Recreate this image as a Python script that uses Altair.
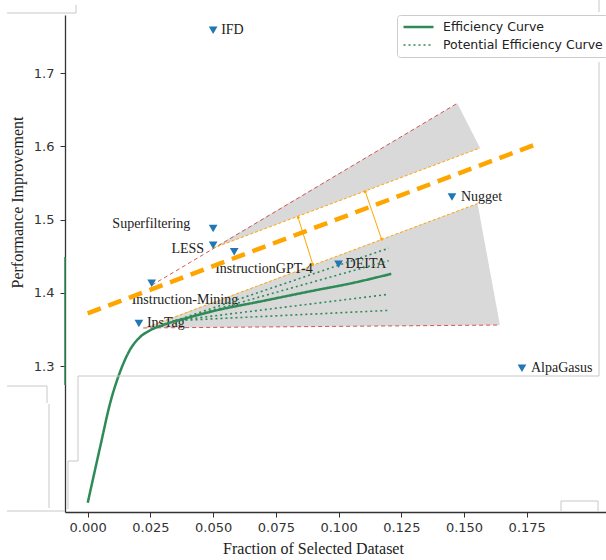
import altair as alt
import pandas as pd

# ---------------- data ----------------
METHODS = ["IFD", "Superfiltering", "LESS", "InstructionGPT-4", "Instruction-Mining",
           "InsTag", "DEITA", "Nugget", "AlpaGasus"]
METHOD_X = [0.050, 0.050, 0.050, 0.0584, 0.0255, 0.0204, 0.100, 0.1452, 0.1731]
METHOD_Y = [1.759, 1.488, 1.465, 1.456, 1.413, 1.358, 1.439, 1.531, 1.297]

EFF_X = [0.0, 0.005, 0.009, 0.013, 0.017, 0.021, 0.025, 0.030, 0.040, 0.050,
         0.070, 0.090, 0.105, 0.121]
EFF_Y = [1.113, 1.190, 1.250, 1.293, 1.323, 1.340, 1.349, 1.356, 1.366, 1.375,
         1.389, 1.403, 1.413, 1.426]

POT_START_X = 0.035
POT_START_Y = 1.362
POT_END_X = 0.120
POT_END_Y = [1.461, 1.444, 1.398, 1.376]

# grey wedges (x, upper, lower)
UP_WEDGE_X = [0.0499, 0.1473, 0.1564]
UP_WEDGE_TOP = [1.461, 1.659, 1.598]
UP_WEDGE_BOT = [1.461, 1.5863, 1.598]
LO_WEDGE_X = [0.0225, 0.1554, 0.1643]
LO_WEDGE_TOP = [1.352, 1.522, 1.356]
LO_WEDGE_BOT = [1.352, 1.3557, 1.356]

# red dashed bounds (x1, y1, x2, y2)
RED_X1 = [0.0256, 0.0221]
RED_Y1 = [1.4105, 1.352]
RED_X2 = [0.1473, 0.1643]
RED_Y2 = [1.659, 1.356]

# thin orange bounds
ORA_X1 = [0.0499, 0.0237]
ORA_Y1 = [1.461, 1.353]
ORA_X2 = [0.1564, 0.1554]
ORA_Y2 = [1.598, 1.522]

# thick orange trend
TREND_X = [0.0, 0.1803]
TREND_Y = [1.372, 1.605]

# double arrows
ARR_X1 = [0.0838, 0.1106]
ARR_Y1 = [1.5038, 1.539]
ARR_X2 = [0.0898, 0.1172]
ARR_Y2 = [1.438, 1.4727]

X_TICKS = [0.0, 0.025, 0.05, 0.075, 0.1, 0.125, 0.15, 0.175]
Y_TICKS = [1.3, 1.4, 1.5, 1.6, 1.7]

# ---------------- tables ----------------
pts = pd.DataFrame({"name": METHODS, "x": METHOD_X, "y": METHOD_Y})

rows = []
for xv, yv in zip(EFF_X, EFF_Y):
    rows.append({"series": "Efficiency Curve", "lid": "eff", "x": xv, "y": yv})
for i, ye in enumerate(POT_END_Y):
    rows.append({"series": "Potential Efficiency Curve", "lid": f"p{i}", "x": POT_START_X, "y": POT_START_Y})
    rows.append({"series": "Potential Efficiency Curve", "lid": f"p{i}", "x": POT_END_X, "y": ye})
lines = pd.DataFrame(rows)

wedges = pd.DataFrame(
    [{"w": "up", "x": a, "top": b, "bot": c} for a, b, c in zip(UP_WEDGE_X, UP_WEDGE_TOP, UP_WEDGE_BOT)]
    + [{"w": "lo", "x": a, "top": b, "bot": c} for a, b, c in zip(LO_WEDGE_X, LO_WEDGE_TOP, LO_WEDGE_BOT)]
)
red = pd.DataFrame({"x": RED_X1, "y": RED_Y1, "x2": RED_X2, "y2": RED_Y2})
ora = pd.DataFrame({"x": ORA_X1, "y": ORA_Y1, "x2": ORA_X2, "y2": ORA_Y2})
trend = pd.DataFrame({"x": [TREND_X[0]], "y": [TREND_Y[0]], "x2": [TREND_X[1]], "y2": [TREND_Y[1]]})
arr = pd.DataFrame({"x": ARR_X1, "y": ARR_Y1, "x2": ARR_X2, "y2": ARR_Y2})
heads_top = pd.DataFrame({"x": ARR_X1, "y": ARR_Y1})
heads_bot = pd.DataFrame({"x": ARR_X2, "y": ARR_Y2})

XS = alt.Scale(domain=[-0.00905, 0.2066], nice=False, zero=False)
YS = alt.Scale(domain=[1.1005, 1.7797], nice=False, zero=False)

x_axis = alt.Axis(values=X_TICKS, format=".3f", grid=False, title="Fraction of Selected Dataset",
                  titleFont="Liberation Serif", titleFontSize=16, titleFontWeight="normal",
                  titleColor="#222", titleX=248, titleY=36, titleBaseline="middle",
                  labelFont="DejaVu Sans", labelFontSize=13, labelColor="#333",
                  tickSize=5, tickColor="#333", domainColor="#333", domainWidth=1.3,
                  labelPadding=4)
y_axis = alt.Axis(values=Y_TICKS, format=".1f", grid=False, title="Performance Improvement",
                  titleFont="Liberation Serif", titleFontSize=16, titleFontWeight="normal",
                  titleColor="#222", titleX=-48, titleY=187, titleBaseline="middle",
                  labelFont="DejaVu Sans", labelFontSize=13, labelColor="#333",
                  tickSize=5, tickColor="#333", domainColor="#333", domainWidth=1.3,
                  labelPadding=6)

X = lambda f="x": alt.X(f"{f}:Q", scale=XS, axis=x_axis)
Y = lambda f="y": alt.Y(f"{f}:Q", scale=YS, axis=y_axis)

GREEN = "#2e8b57"
ORANGE = "#ffa500"
RED = "#d03a3a"

area = alt.Chart(wedges).mark_area(color="#d9d9d9", opacity=1).encode(
    x=X(), y=alt.Y("top:Q", scale=YS, axis=y_axis), y2="bot:Q", detail="w:N"
)

red_l = alt.Chart(red).mark_rule(color=RED, strokeWidth=1, strokeDash=[4, 3], opacity=0.85).encode(
    x=X(), y=Y(), x2="x2:Q", y2="y2:Q")
ora_l = alt.Chart(ora).mark_rule(color=ORANGE, strokeWidth=1, strokeDash=[3, 2]).encode(
    x=X(), y=Y(), x2="x2:Q", y2="y2:Q")
arr_l = alt.Chart(arr).mark_rule(color=ORANGE, strokeWidth=1).encode(
    x=X(), y=Y(), x2="x2:Q", y2="y2:Q")
head_t = alt.Chart(heads_top).mark_point(shape="triangle-up", filled=True, color=ORANGE,
                                          size=14, angle=342, opacity=1).encode(x=X(), y=Y())
head_b = alt.Chart(heads_bot).mark_point(shape="triangle-up", filled=True, color=ORANGE,
                                          size=14, angle=162, opacity=1).encode(x=X(), y=Y())
trend_l = alt.Chart(trend).mark_rule(color=ORANGE, strokeWidth=4.5, strokeDash=[14, 8]).encode(
    x=X(), y=Y(), x2="x2:Q", y2="y2:Q")

SER = ["Efficiency Curve", "Potential Efficiency Curve"]
legend = alt.Legend(orient="none", legendX=332, legendY=0, title=None,
                    symbolType="stroke", symbolSize=900, clipHeight=14,
                    labelFont="DejaVu Sans", labelFontSize=12.5, labelColor="#222",
                    labelOffset=8, strokeColor="#cccccc", fillColor="white",
                    cornerRadius=3, padding=5, rowPadding=4)
curves = alt.Chart(lines).mark_line(interpolate="monotone").encode(
    x=X(), y=Y(),
    detail="lid:N",
    color=alt.Color("series:N", scale=alt.Scale(domain=SER, range=[GREEN, GREEN]), legend=legend),
    strokeDash=alt.StrokeDash("series:N", scale=alt.Scale(domain=SER, range=[[1, 0], [2, 3]]), legend=legend),
    strokeWidth=alt.StrokeWidth("series:N", scale=alt.Scale(domain=SER, range=[2.5, 1.6]), legend=legend),
)

marks = alt.Chart(pts).mark_point(shape="triangle-down", filled=True, color="#1f77b4",
                                  size=75, opacity=1).encode(x=X(), y=Y())

LABEL_STYLE = {
    "IFD": ("left", 8, 0),
    "Superfiltering": ("right", -23, -4),
    "LESS": ("right", -9, 4),
    "InstructionGPT-4": ("left", -19, 17),
    "Instruction-Mining": ("left", -20, 17),
    "InsTag": ("left", 8, -1),
    "DEITA": ("left", 7, 0),
    "Nugget": ("left", 9, 0),
    "AlpaGasus": ("left", 9, 0),
}
label_layers = []
for nm, (al, dx, dy) in LABEL_STYLE.items():
    label_layers.append(
        alt.Chart(pts).transform_filter(alt.datum.name == nm).mark_text(
            align=al, baseline="middle", dx=dx, dy=dy, font="Liberation Serif",
            fontSize=14, color="#222").encode(x=X(), y=Y(), text="name:N")
    )

# faint frame remnants of the source figure (pixel space)
DEC_X = [13, 534, 13, 3, 3, -58, -18, -16, -58, -58, 11, 534, 496, 496, 533]
DEC_Y = [361, 47, 361, 446, 446, 371, 371, 389, 496, -2, -10, -15, 486, 486, 486]
DEC_X2 = [534, 534, 13, 13, 3, -18, -18, -16, 0, 11, 11, 534, 533, 496, 533]
DEC_Y2 = [361, 361, 446, 446, 494, 371, 388, 493, 496, -2, -2, -3, 486, 497, 497]
dec = pd.DataFrame({"x": DEC_X, "y": DEC_Y, "x2": DEC_X2, "y2": DEC_Y2})
decor = alt.Chart(dec).mark_rule(color="#c8c8c8", strokeWidth=1).encode(
    x=alt.X("x:Q", scale=None), y=alt.Y("y:Q", scale=None), x2="x2:Q", y2="y2:Q")
spine = pd.DataFrame({"x": [0], "y": [242], "y2": [370]})
spine_l = alt.Chart(spine).mark_rule(color=GREEN, strokeWidth=1.5).encode(
    x=alt.X("x:Q", scale=None), y=alt.Y("y:Q", scale=None), y2="y2:Q")

chart = alt.layer(
    area, red_l, ora_l, arr_l, head_t, head_b, *label_layers, trend_l, curves, marks,
    decor, spine_l
).resolve_scale(x="shared", y="shared").properties(
    width=541, height=497,
    autosize=alt.AutoSizeParams(type="none"),
    padding={"left": 65, "top": 15, "right": 0, "bottom": 48},
    background="white",
).configure_view(stroke=None)

chart.save("out.html", embed_options={"renderer": "svg", "actions": False})
